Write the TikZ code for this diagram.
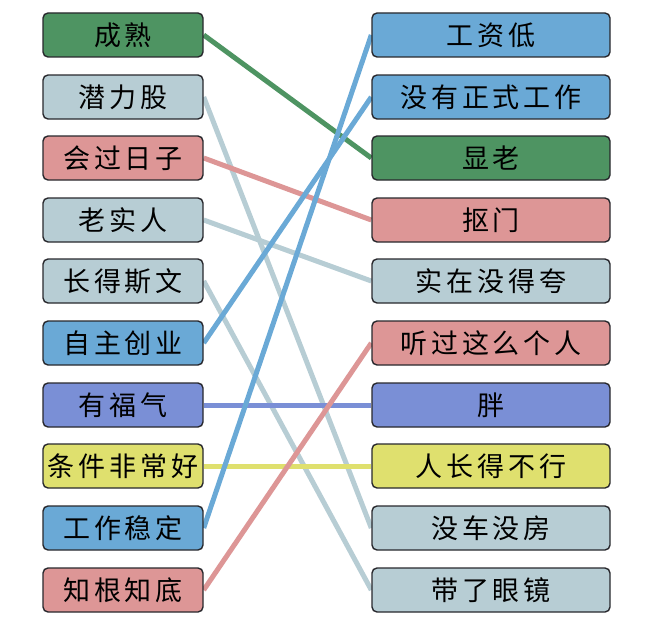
\documentclass[tikz,border=0pt]{standalone}
\usepackage{fontspec}
\setmainfont{Noto Sans CJK SC}[LetterSpace=14]
\usepackage{tikz}
\usetikzlibrary{positioning,backgrounds}
\definecolor{matchgreen}{RGB}{78,148,98}
\definecolor{matchgray}{RGB}{183,205,212}
\definecolor{matchred}{RGB}{221,150,150}
\definecolor{matchblue}{RGB}{106,169,214}
\definecolor{matchpurple}{RGB}{122,143,214}
\definecolor{matchyellow}{RGB}{223,224,110}
\definecolor{boxedge}{RGB}{40,40,45}

\begin{document}
\begin{tikzpicture}[x=1pt, y=-1pt,
    word/.style={rectangle, rounded corners=5pt, draw=boxedge, line width=1.4pt, minimum height=44pt, inner sep=0pt, font=\fontsize{27pt}{30pt}\selectfont},
    lword/.style={word, minimum width=160pt},
    rword/.style={word, minimum width=238pt},
    link/.style={line width=5pt}]

    \useasboundingbox (0,0) rectangle (661,634);

    % Left column
    \node[lword, fill=matchgreen] (l1) at (123,35) {成熟};
    \node[lword, fill=matchgray] (l2) at (123,97) {潜力股};
    \node[lword, fill=matchred] (l3) at (123,158) {会过日子};
    \node[lword, fill=matchgray] (l4) at (123,220) {老实人};
    \node[lword, fill=matchgray] (l5) at (123,281) {长得斯文};
    \node[lword, fill=matchblue] (l6) at (123,343) {自主创业};
    \node[lword, fill=matchpurple] (l7) at (123,405) {有福气};
    \node[lword, fill=matchyellow] (l8) at (123,466) {条件非常好};
    \node[lword, fill=matchblue] (l9) at (123,528) {工作稳定};
    \node[lword, fill=matchred] (l10) at (123,590) {知根知底};

    % Right column
    \node[rword, fill=matchblue] (r1) at (491,35) {工资低};
    \node[rword, fill=matchblue] (r2) at (491,97) {没有正式工作};
    \node[rword, fill=matchgreen] (r3) at (491,158) {显老};
    \node[rword, fill=matchred] (r4) at (491,220) {抠门};
    \node[rword, fill=matchgray] (r5) at (491,281) {实在没得夸};
    \node[rword, fill=matchred] (r6) at (491,343) {听过这么个人};
    \node[rword, fill=matchpurple] (r7) at (491,405) {胖};
    \node[rword, fill=matchyellow] (r8) at (491,466) {人长得不行};
    \node[rword, fill=matchgray] (r9) at (491,528) {没车没房};
    \node[rword, fill=matchgray] (r10) at (491,590) {带了眼镜};

    % Links
    \begin{scope}[on background layer]
    \draw[link, matchgreen] (l1.east) -- (r3.west);
    \draw[link, matchgray] (l2.east) -- (r9.west);
    \draw[link, matchred] (l3.east) -- (r4.west);
    \draw[link, matchgray] (l4.east) -- (r5.west);
    \draw[link, matchgray] (l5.east) -- (r10.west);
    \draw[link, matchblue] (l6.east) -- (r2.west);
    \draw[link, matchpurple] (l7.east) -- (r7.west);
    \draw[link, matchyellow] (l8.east) -- (r8.west);
    \draw[link, matchblue] (l9.east) -- (r1.west);
    \draw[link, matchred] (l10.east) -- (r6.west);
    \end{scope}
\end{tikzpicture}
\end{document}
